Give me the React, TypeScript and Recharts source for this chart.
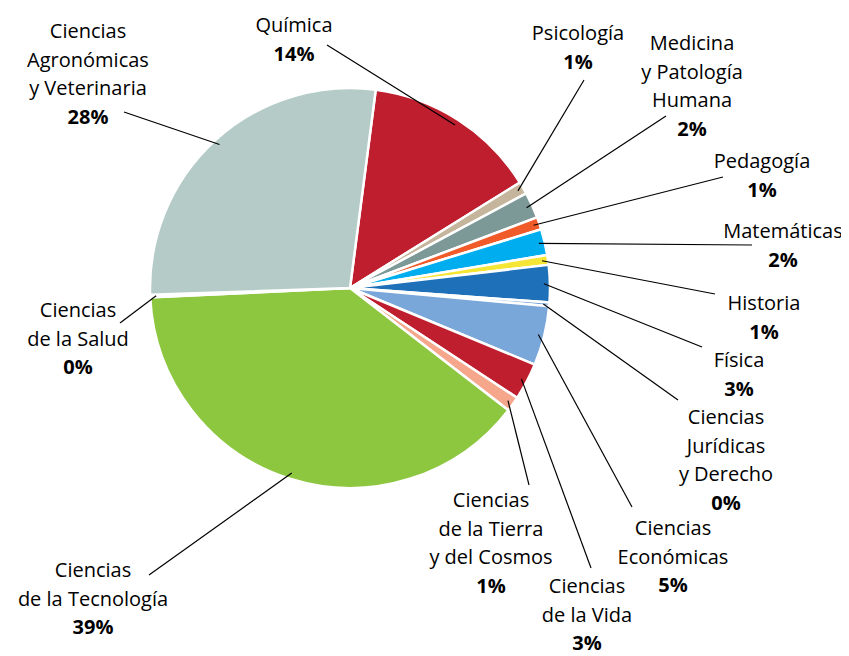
import React from "react";
import { PieChart, Pie, Cell } from "recharts";

// slices in clockwise order, starting at Química
const areas = [
  "Química",
  "Psicología",
  "Medicina y Patología Humana",
  "Pedagogía",
  "Matemáticas",
  "Historia",
  "Física",
  "Ciencias Jurídicas y Derecho",
  "Ciencias Económicas",
  "Ciencias de la Vida",
  "Ciencias de la Tierra y del Cosmos",
  "Ciencias de la Tecnología",
  "Ciencias de la Salud",
  "Ciencias Agronómicas y Veterinaria",
];
const shares = [14.1, 1.0, 2.1, 1.0, 2.1, 0.8, 3.0, 0.3, 4.8, 3.0, 1.2, 38.8, 0.2, 27.6];
const colors = [
  "#be1e2d", "#c4b59c", "#7c9897", "#f15a29", "#00aeef", "#f5e535", "#1e70b8",
  "#7aa7da", "#7aa7da", "#be1e2d", "#f6a68a", "#8dc63f", "#b4cbc8", "#b4cbc8",
];
const labelText = [
  "Química",
  "Psicología",
  "Medicina\ny Patología\nHumana",
  "Pedagogía",
  "Matemáticas",
  "Historia",
  "Física",
  "Ciencias\nJurídicas\ny Derecho",
  "Ciencias\nEconómicas",
  "Ciencias\nde la Vida",
  "Ciencias\nde la Tierra\ny del Cosmos",
  "Ciencias\nde la Tecnología",
  "Ciencias\nde la Salud",
  "Ciencias\nAgronómicas\ny Veterinaria",
];

// label placement: text centre x, first line centre y, end of leader line near the text
const labelSpots = [
  { x: 286, y: 16, lx: 319, ly: 37 },
  { x: 570, y: 24, lx: 576, ly: 72 },
  { x: 684, y: 34, lx: 658, ly: 108 },
  { x: 754, y: 152, lx: 715, ly: 169 },
  { x: 775, y: 222, lx: 744, ly: 237 },
  { x: 756, y: 294, lx: 707, ly: 286 },
  { x: 731, y: 351, lx: 694, ly: 339 },
  { x: 718, y: 408, lx: 670, ly: 392 },
  { x: 665, y: 519, lx: 624, ly: 499 },
  { x: 579, y: 577, lx: 583, ly: 560 },
  { x: 483, y: 491, lx: 521, ly: 477 },
  { x: 85, y: 561, lx: 141, ly: 567 },
  { x: 70, y: 301, lx: 112, ly: 315 },
  { x: 80, y: 22, lx: 116, ly: 104 },
];

const data = areas.map((name, i) => ({ name, value: shares[i] }));

const LINE_H = 28.6;
const RAD = Math.PI / 180;

function renderLabel(props: any) {
  const { cx, cy, midAngle, outerRadius, percent, index } = props;
  const spot = labelSpots[index];
  const ax = cx + (outerRadius - 6) * Math.cos(-midAngle * RAD);
  const ay = cy + (outerRadius - 6) * Math.sin(-midAngle * RAD);
  const lines = labelText[index].split("\n");
  return (
    <g key={"lbl" + index}>
      <line x1={ax} y1={ay} x2={spot.lx} y2={spot.ly} stroke="#000" strokeWidth={1.2} />
      <text
        x={spot.x}
        y={spot.y}
        textAnchor="middle"
        dominantBaseline="central"
        fill="#000"
        fontSize={20}
        fontFamily="'Open Sans', sans-serif"
      >
        {lines.map((ln, k) => (
          <tspan key={k} x={spot.x} dy={k === 0 ? 0 : LINE_H}>
            {ln}
          </tspan>
        ))}
        <tspan x={spot.x} dy={LINE_H} fontWeight={700}>
          {Math.round(percent * 100)}%
        </tspan>
      </text>
    </g>
  );
}

export default function App() {
  return (
    <div style={{ width: 841, height: 648, background: "#fff" }}>
      <PieChart
        width={841}
        height={648}
        margin={{ top: 0, right: 0, bottom: 0, left: 0 }}
        style={{ overflow: "visible" }}
      >
        <Pie
          data={data}
          dataKey="value"
          nameKey="name"
          cx={342}
          cy={280}
          outerRadius={200}
          startAngle={82.6}
          endAngle={-277.4}
          stroke="#fff"
          strokeWidth={2.5}
          label={renderLabel}
          labelLine={false}
          isAnimationActive={false}
        >
          {data.map((d, i) => (
            <Cell key={d.name} fill={colors[i]} />
          ))}
        </Pie>
      </PieChart>
    </div>
  );
}
